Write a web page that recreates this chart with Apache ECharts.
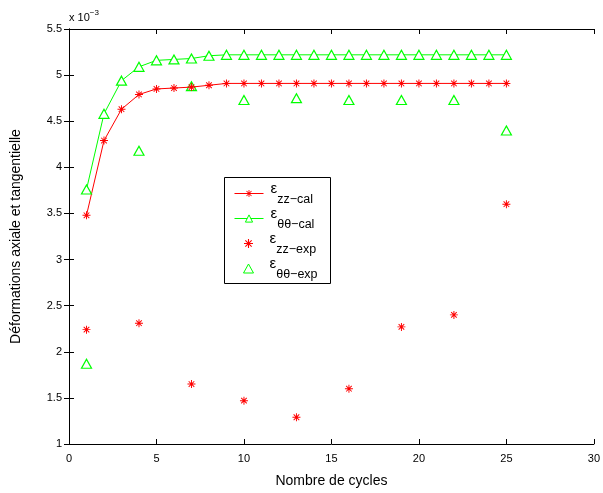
<!DOCTYPE html>
<html><head><meta charset="utf-8">
<script src="https://cdn.jsdelivr.net/npm/echarts@6/dist/echarts.min.js"></script>
<style>html,body{margin:0;padding:0;background:#fff}#c{width:603px;height:493px}</style>
</head><body><div id="c"></div>
<script>
const cyclesCal = [1,2,3,4,5,6,7,8,9,10,11,12,13,14,15,16,17,18,19,20,21,22,23,24,25];
const zzCal = [3.48,4.29,4.63,4.79,4.85,4.86,4.87,4.89,4.91,4.91,4.91,4.91,4.91,4.91,4.91,4.91,4.91,4.91,4.91,4.91,4.91,4.91,4.91,4.91,4.91];
const ttCal = [3.76,4.58,4.94,5.09,5.16,5.17,5.18,5.21,5.22,5.22,5.22,5.22,5.22,5.22,5.22,5.22,5.22,5.22,5.22,5.22,5.22,5.22,5.22,5.22,5.22];
const cyclesExp = [1,4,7,10,13,16,19,22,25];
const zzExp = [2.24,2.31,1.65,1.47,1.29,1.60,2.27,2.40,3.60];
const ttExp = [1.87,4.18,4.88,4.73,4.75,4.73,4.73,4.73,4.40];
const xTicks = [0,5,10,15,20,25,30];
const yTicks = [1,1.5,2,2.5,3,3.5,4,4.5,5,5.5];
const names = ['zz−cal','θθ−cal','zz−exp','θθ−exp'];

const pair = (xs, ys) => xs.map((x, i) => [x, ys[i]]);
const star = 'path://M0 4.4 L10 4.4 L10 5.6 L0 5.6 Z M4.4 0 L5.6 0 L5.6 10 L4.4 10 Z M1.08 1.92 L1.92 1.08 L8.92 8.08 L8.08 8.92 Z M8.08 1.08 L8.92 1.92 L1.92 8.92 L1.08 8.08 Z';
const RED = '#ff0000', GREEN = '#00ff00';
const FONT = 'Liberation Sans, Arial, sans-serif';

const chart = echarts.init(document.getElementById('c'));
const axisCommon = {
  axisLine: {show: true, lineStyle: {color: '#000', width: 1}},
  axisTick: {show: true, inside: true, length: 5, lineStyle: {color: '#000'}},
  splitLine: {show: false}
};
const legendText = (pad) => ({
  color: '#000', fontFamily: FONT,
  rich: {
    e: {fontSize: 15, fontFamily: FONT, color: '#000', verticalAlign: 'top', lineHeight: 25, padding: [0,0,0,pad]},
    s: {fontSize: 12.5, fontFamily: FONT, color: '#000', verticalAlign: 'bottom', lineHeight: 25}
  }
});
chart.setOption({
  animation: false,
  backgroundColor: '#fff',
  grid: {left: 69, right: 6, top: 29, bottom: 48, containLabel: false},
  xAxis: [
    Object.assign({type: 'value', min: 0, max: 30, interval: 5, position: 'bottom',
      axisLabel: {color: '#000', fontFamily: FONT, fontSize: 11, margin: 9,
        formatter: v => xTicks.includes(v) ? String(v) : ''},
      name: 'Nombre de cycles', nameLocation: 'middle', nameGap: 30,
      nameTextStyle: {color: '#000', fontFamily: FONT, fontSize: 14}}, axisCommon),
    Object.assign({type: 'value', min: 0, max: 30, interval: 5, position: 'top',
      axisLabel: {show: false}}, axisCommon)
  ],
  yAxis: [
    Object.assign({type: 'value', min: 1, max: 5.5, interval: 0.5, position: 'left',
      axisLabel: {color: '#000', fontFamily: FONT, fontSize: 11, margin: 7,
        formatter: v => { const t = yTicks.find(k => Math.abs(k - v) < 1e-9); return t === undefined ? '' : String(t); }},
      name: 'Déformations axiale et tangentielle', nameLocation: 'middle', nameGap: 46,
      nameTextStyle: {color: '#000', fontFamily: FONT, fontSize: 14}}, axisCommon),
    Object.assign({type: 'value', min: 1, max: 5.5, interval: 0.5, position: 'right',
      axisLabel: {show: false}}, axisCommon)
  ],
  legend: [
    {orient: 'vertical', left: 234, top: 181, padding: 0, itemGap: 0, itemWidth: 29, itemHeight: 9,
      lineStyle: {width: 1}, itemStyle: {borderWidth: 1},
      data: [names[0], names[1]], formatter: n => '{e|ε}{s|' + n + '}', textStyle: legendText(2), z: 10},
    {orient: 'vertical', left: 243, top: 231, padding: 0, itemGap: 0, itemWidth: 10, itemHeight: 9,
      itemStyle: {borderWidth: 1},
      data: [names[2], names[3]], formatter: n => '{e|ε}{s|' + n + '}', textStyle: legendText(11), z: 10}
  ],
  graphic: [
    {type: 'rect', left: 224, top: 177, z: 5, shape: {width: 106, height: 106},
      style: {fill: '#fff', stroke: '#000', lineWidth: 1}},
    {type: 'text', left: 69, top: 9,
      style: {text: '{a|x 10}{b|−3}', fontFamily: FONT,
        rich: {a: {fontSize: 11, fontFamily: FONT, fill: '#000', verticalAlign: 'bottom', lineHeight: 14},
               b: {fontSize: 8, fontFamily: FONT, fill: '#000', verticalAlign: 'top', lineHeight: 14}}}}
  ],
  series: [
    {name: names[0], type: 'line', data: pair(cyclesCal, zzCal), symbol: star, symbolSize: 8,
      lineStyle: {color: RED, width: 1}, itemStyle: {color: RED}},
    {name: names[1], type: 'line', data: pair(cyclesCal, ttCal), symbol: 'triangle', symbolSize: [10, 9],
      lineStyle: {color: GREEN, width: 1}, itemStyle: {color: '#fff', borderColor: GREEN, borderWidth: 1.2}},
    {name: names[2], type: 'scatter', data: pair(cyclesExp, zzExp), symbol: star, symbolSize: 8,
      itemStyle: {color: RED, opacity: 1}},
    {name: names[3], type: 'scatter', data: pair(cyclesExp, ttExp), symbol: 'triangle', symbolSize: [10, 9],
      itemStyle: {color: 'rgba(255,255,255,0)', borderColor: GREEN, borderWidth: 1.2, opacity: 1}}
  ]
});
</script></body></html>
